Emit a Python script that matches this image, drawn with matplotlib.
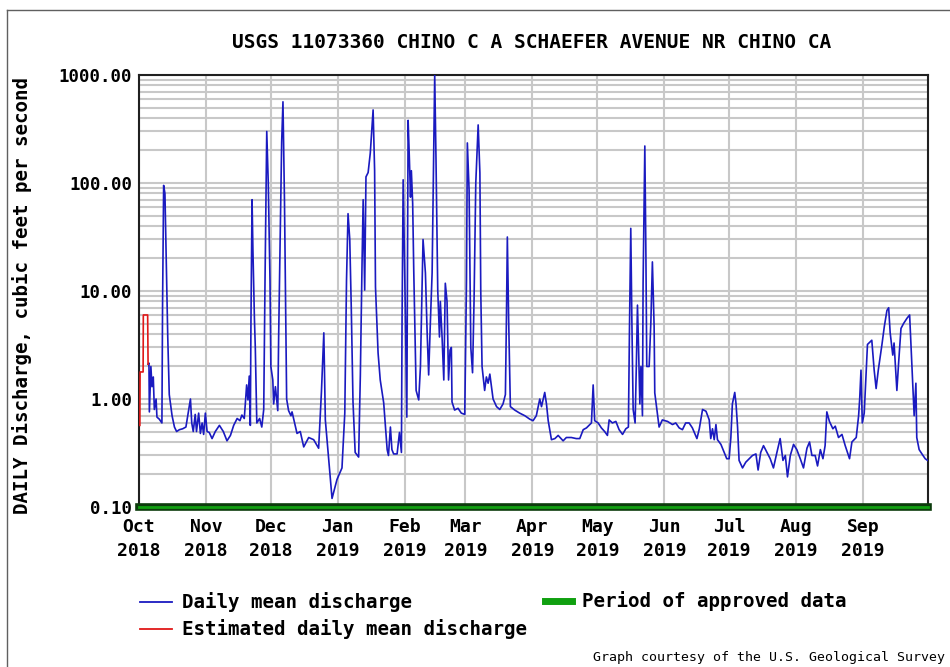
"""USGS daily discharge hydrograph, water year 2019, Chino Creek."""
from datetime import datetime

import matplotlib
matplotlib.use("Agg")
import matplotlib.pyplot as plt
import matplotlib.dates as mdates
from matplotlib.lines import Line2D
from matplotlib.ticker import FixedLocator, FuncFormatter
import numpy as np

# ── Data (day offsets from 2018-10-01) ────────────────────────────────────────

EST_DAYS = [0.4, 0.5, 1.9, 2.0, 4.0, 4.2]
EST_CFS = [0.57, 1.78, 1.78, 6.0, 6.0, 2.1]

DAYS = [
    4.2, 4.6, 4.8, 5.5, 6.0, 6.6, 7.1, 7.9, 8.3, 9.4, 10.6, 10.9, 11.4, 12.0,
    12.5, 13.3, 14.0, 15.3, 16.4, 17.4, 18.7, 20.2, 21.7, 23.0, 23.8, 24.4,
    25.1, 26.0, 26.6, 27.6, 28.4, 29.2, 29.9, 30.7, 31.5, 32.5, 33.8, 35.3,
    37.2, 39.0, 40.7, 42.3, 43.8, 45.4, 46.7, 47.6, 48.7, 49.8, 50.4, 51.0,
    51.5, 51.8, 52.3, 52.7, 53.4, 53.8, 54.5, 55.8, 56.8, 57.7, 58.3, 59.1,
    59.8, 60.6, 61.0, 61.9, 62.3, 63.1, 64.2, 64.6, 65.4, 66.0, 66.6, 67.3,
    68.3, 69.2, 70.3,
    70.8, 73.1, 74.6, 76.2, 78.5, 80.8, 83.1, 84.4, 85.5, 86.2, 87.8, 89.3,
    91.6, 93.9, 95.2, 96.0, 96.7, 97.5, 98.2, 99.0, 100.0, 101.6, 102.4,
    103.2, 103.7, 104.4, 105.0, 106.0, 107.0, 107.8, 108.3, 109.0, 109.4,
    110.6, 111.6, 113.2, 114.8, 115.4, 116.3, 117.0, 117.8, 119.4, 120.5,
    121.4, 121.7, 122.2, 122.7, 123.2, 123.9, 124.2, 124.5, 125.1, 125.6,
    126.0, 126.6, 127.1, 128.2, 129.4, 130.2, 131.4, 132.5, 133.3, 134.0,
    134.8, 135.6, 136.4, 136.8, 137.4, 138.2, 139.0, 139.4, 140.2, 141.0,
    141.7, 142.5, 143.2, 143.9,
    144.5, 144.8, 146.0, 147.6, 149.1, 150.7, 151.5, 151.9, 152.7, 153.5,
    154.3, 155.0, 155.8, 156.9, 157.7, 158.1, 158.7, 159.9, 160.7, 161.5,
    162.3, 163.8, 165.4, 166.9, 168.4, 169.5, 170.0, 170.4, 171.0, 171.8,
    173.8, 176.1, 178.5, 180.8, 182.3, 183.8, 185.4, 186.2, 187.0, 187.7,
    188.5, 189.3, 190.8, 192.4, 193.9, 196.2, 197.7, 200.0, 202.3, 203.9,
    205.5, 207.0, 209.3, 210.1, 210.8, 212.4, 213.9, 215.4,
    216.7, 217.5, 219.0, 220.6, 222.1, 223.7, 225.2, 226.4, 226.9, 227.5,
    228.0, 228.6, 229.5, 230.1, 230.6, 231.1, 231.7, 232.2, 232.9, 233.2,
    234.0, 234.5, 234.9, 236.0, 236.8, 237.5, 238.3, 238.6, 239.8, 240.6,
    242.1, 244.5, 246.8, 248.3, 249.9, 251.4, 252.9, 254.5, 256.0, 258.1,
    259.2, 260.7, 262.3, 263.8, 264.5, 265.3, 266.1, 266.9, 267.6, 269.2,
    270.7, 271.9, 273.0, 273.8, 274.5, 275.6, 276.2, 276.9, 277.6, 279.2,
    280.7, 282.3, 283.8, 285.4, 286.4, 287.6, 288.9,
    292.0, 293.5, 295.1, 296.6, 297.9, 299.0, 300.0, 301.3, 302.8, 304.3,
    305.9, 307.4, 309.0, 310.2, 311.3, 312.8, 313.9, 315.2, 316.4, 317.4,
    318.2, 319.4, 321.0, 322.1, 323.6, 325.2, 326.7, 328.7, 329.8, 331.8,
    332.9, 333.4, 334.0, 334.6, 335.5, 336.3, 337.0, 339.0, 340.1, 341.0,
    342.0, 343.7, 344.8, 346.0, 346.8, 347.5, 348.7, 349.3, 350.6, 351.4,
    352.5, 353.7, 355.3, 356.5, 357.6, 358.6, 359.4, 359.8, 360.9, 362.2,
    363.7, 364.8,
]

CFS = [
    2.1, 2.15, 0.76, 2.0, 1.3, 1.6, 0.8, 1.0, 0.68, 0.65, 0.6, 7.4, 95, 80,
    25, 3.75, 1.1, 0.7, 0.55, 0.5, 0.52, 0.53, 0.55, 0.8, 1.0, 0.6,
    0.5, 0.72, 0.5, 0.74, 0.48, 0.6, 0.47, 0.74, 0.5, 0.49, 0.43, 0.5,
    0.57, 0.5, 0.41, 0.46, 0.57, 0.66, 0.63, 0.71, 0.66, 1.35, 0.98, 1.63,
    0.57, 5.5, 70, 24, 5.5, 3.0, 0.6, 0.66, 0.55, 0.8, 12.6, 300,
    100, 12.6, 2.0, 1.5, 0.9, 1.3, 0.78, 3.75, 43, 240, 565, 68,
    1.0, 0.78, 0.7,
    0.76, 0.48, 0.5, 0.36, 0.44, 0.42, 0.35, 1.17, 4.1, 0.64, 0.27, 0.12,
    0.18, 0.23, 0.74, 12.6, 52, 30, 7.0, 0.94, 0.32, 0.29, 1.67,
    19, 70, 10.2, 114, 125, 190, 330, 475, 130, 10.9,
    2.67, 1.5, 0.92, 0.34, 0.3, 0.55, 0.34, 0.31, 0.31, 0.49,
    0.32, 5.7, 107, 28, 6.7, 0.68, 15.6, 380, 163, 74,
    130, 65, 15.6, 1.2, 0.98, 2.0, 30, 14.7, 4.1, 1.67,
    5.2, 14.7, 240, 1000, 163, 10.2, 3.75, 8.0, 3.75, 1.5,
    11.8, 8.0, 1.5, 2.84,
    3.0, 0.94, 0.79, 0.82, 0.74, 0.72, 12.6, 235, 86, 3.0,
    1.75, 8.2, 100, 345, 124, 10, 2.0, 1.2, 1.6, 1.4,
    1.7, 1.0, 0.85, 0.8, 0.9, 1.1, 6.0, 31.6, 5.5, 0.85,
    0.79, 0.74, 0.7, 0.65, 0.63, 0.7, 1.0, 0.85, 1.0, 1.15,
    0.9, 0.63, 0.42, 0.43, 0.46, 0.41, 0.44, 0.44, 0.43, 0.43,
    0.52, 0.54, 0.6, 1.35, 0.63, 0.6, 0.54, 0.5,
    0.46, 0.64, 0.6, 0.62, 0.52, 0.47, 0.53, 0.55, 4.5, 38,
    5.4, 0.8, 0.6, 2.15, 7.4, 3.0, 0.9, 2.0, 0.7, 11.8,
    220, 21.5, 2.0, 2.0, 5.2, 18.6, 4.7, 1.14, 0.74, 0.55,
    0.64, 0.62, 0.58, 0.6, 0.54, 0.52, 0.6, 0.6, 0.54, 0.43,
    0.53, 0.8, 0.77, 0.64, 0.43, 0.53, 0.42, 0.58, 0.42, 0.38,
    0.32, 0.28, 0.28, 0.44, 0.9, 1.15, 0.9, 0.55, 0.27, 0.23,
    0.26, 0.28, 0.3, 0.31, 0.22, 0.32, 0.37,
    0.28, 0.23, 0.32, 0.43, 0.27, 0.3, 0.19, 0.3, 0.38, 0.34,
    0.28, 0.23, 0.35, 0.4, 0.3, 0.3, 0.24, 0.34, 0.28, 0.37,
    0.76, 0.62, 0.53, 0.56, 0.44, 0.47, 0.37, 0.28, 0.4, 0.44,
    0.7, 1.0, 1.85, 0.6, 0.74, 1.65, 3.2, 3.5, 1.85, 1.25,
    1.85, 3.2, 4.7, 6.6, 7.0, 4.1, 2.55, 3.3, 1.2, 2.15,
    4.5, 5.0, 5.6, 6.0, 2.0, 0.7, 1.4, 0.44, 0.34, 0.31,
    0.28, 0.27,
]

MONTHS = ["Oct\n2018", "Nov\n2018", "Dec\n2018", "Jan\n2019", "Feb\n2019",
          "Mar\n2019", "Apr\n2019", "May\n2019", "Jun\n2019", "Jul\n2019",
          "Aug\n2019", "Sep\n2019"]
Y_MAJOR = [0.1, 1, 10, 100, 1000]

TITLE = "USGS 11073360 CHINO C A SCHAEFER AVENUE NR CHINO CA"
YLABEL = "DAILY Discharge, cubic feet per second"

# ── Styling ───────────────────────────────────────────────────────────────────

MONO = "DejaVu Sans Mono"
BLUE = "#1a1ac0"
RED = "#e01818"
GREEN = "#10a010"
GRID = "#c8c8c8"

W, H = 950, 667


def fx(px):
    return px / W


def fy(py):
    return 1 - py / H


start = mdates.date2num(datetime(2018, 10, 1))
month_pos = [mdates.date2num(datetime(2018 + (9 + i) // 12, (9 + i) % 12 + 1, 1))
             for i in range(12)]

fig = plt.figure(figsize=(W / 100, H / 100), dpi=100)
ax = fig.add_axes([fx(139), fy(507), fx(928) - fx(139), fy(75) - fy(507)])

ax.set_yscale("log")
ax.set_ylim(0.1, 1000)
ax.set_xlim(start, start + 365)

# grid: month verticals, log minor horizontals
minor = [m * d for d in Y_MAJOR[:-1] for m in range(2, 10)]
ax.yaxis.set_major_locator(FixedLocator(Y_MAJOR))
ax.yaxis.set_minor_locator(FixedLocator(minor))
ax.yaxis.set_major_formatter(FuncFormatter(lambda v, _: f"{v:.2f}"))
ax.yaxis.set_minor_formatter(FuncFormatter(lambda v, _: ""))
ax.set_xticks(month_pos)
ax.set_xticklabels(MONTHS)
ax.grid(True, which="both", axis="y", color=GRID, lw=1.5)
ax.grid(True, which="major", axis="x", color=GRID, lw=1.5)
ax.set_axisbelow(True)

ax.tick_params(axis="both", which="both", length=0)
ax.tick_params(axis="y", pad=5)
ax.tick_params(axis="x", pad=8)
for lab in ax.get_yticklabels():
    lab.set_fontfamily(MONO)
    lab.set_fontweight("bold")
    lab.set_fontsize(12.5)
for lab in ax.get_xticklabels():
    lab.set_fontfamily(MONO)
    lab.set_fontweight("bold")
    lab.set_fontsize(13)
    lab.set_linespacing(1.4)

for s in ax.spines.values():
    s.set_color("#202020")
    s.set_linewidth(1.5)

# series
ax.plot(start + np.array(DAYS), CFS, color=BLUE, lw=1.2, zorder=3)
ax.plot(start + np.array(EST_DAYS), EST_CFS, color=RED, lw=1.2, zorder=3)

# approved-data band along the bottom
ax.axhline(0.1, color="#0c3c0c", lw=5.5, clip_on=False, zorder=5)
ax.axhline(0.1, color=GREEN, lw=2.0, clip_on=False, zorder=6)

# titles
fig.text(fx(532), fy(43), TITLE, ha="center", va="center",
         family=MONO, weight="bold", fontsize=14)
fig.text(fx(22), fy(296), YLABEL, ha="center", va="center", rotation=90,
         family=MONO, weight="bold", fontsize=13.8)

# legend, drawn by hand like the USGS layout
fig.add_artist(Line2D([fx(140), fx(172)], [fy(602), fy(602)], color=BLUE, lw=1.3))
fig.add_artist(Line2D([fx(140), fx(172)], [fy(629), fy(629)], color=RED, lw=1.3))
fig.add_artist(Line2D([fx(545), fx(572)], [fy(601), fy(601)], color=GREEN, lw=5))
legend_kw = dict(ha="left", va="center", family=MONO, weight="bold", fontsize=13.8)
fig.text(fx(182), fy(602), "Daily mean discharge", **legend_kw)
fig.text(fx(182), fy(629), "Estimated daily mean discharge", **legend_kw)
fig.text(fx(582), fy(601), "Period of approved data", **legend_kw)

fig.text(fx(945), fy(657), "Graph courtesy of the U.S. Geological Survey",
         ha="right", va="center", family=MONO, fontsize=9.5)

# outer frame (left and top edges visible in the reference)
fig.add_artist(Line2D([fx(7), fx(7)], [0, fy(10)], color="#606060", lw=1))
fig.add_artist(Line2D([fx(7), 1], [fy(10), fy(10)], color="#606060", lw=1))

fig.savefig("out.png", dpi=100)
